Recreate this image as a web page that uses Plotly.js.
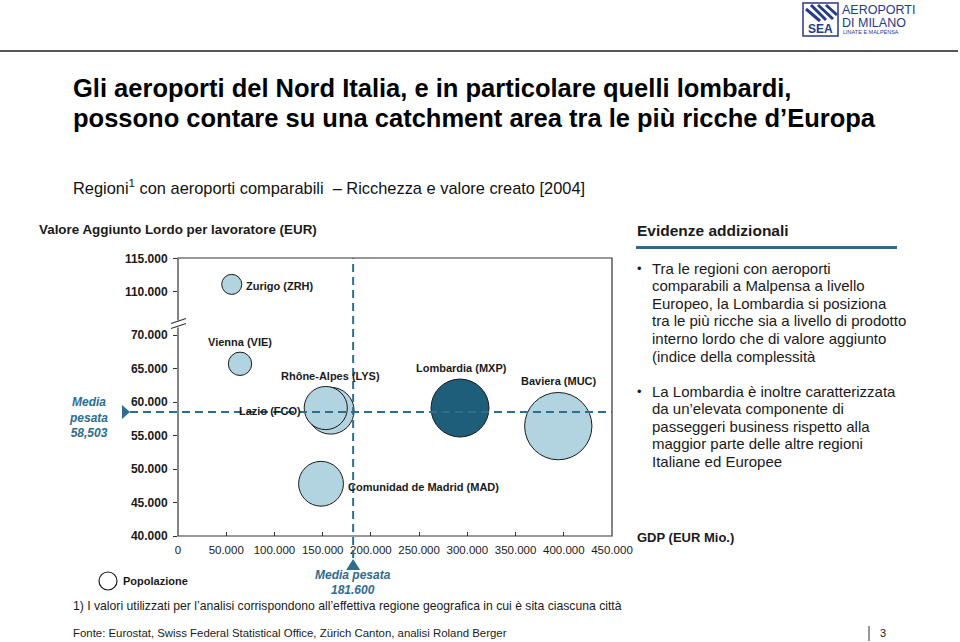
<!DOCTYPE html>
<html><head><meta charset="utf-8">
<script src="https://cdn.plot.ly/plotly-3.0.1.min.js"></script>
<style>html,body{margin:0;padding:0;background:#fff}#chart{width:960px;height:642px}</style>
</head><body><div id="chart"></div>
<script>
// ---------------- data ----------------
const regions = ['Zurigo (ZRH)', 'Vienna (VIE)', 'Rhône-Alpes (LYS)', 'Lazio (FCO)', 'Comunidad de Madrid (MAD)', 'Lombardia (MXP)', 'Baviera (MUC)'];
const gdpMio = [55700, 64300, 158300, 153200, 148300, 292400, 394300];          // GDP (EUR Mio.)
const gvaPerWorker = [111100, 65700, 58700, 59100, 47800, 59100, 56400];        // Valore Aggiunto Lordo per lavoratore (EUR)
const populationMio = [1.1, 1.5, 6.0, 5.1, 5.5, 9.2, 12.4];                     // Popolazione (Mio.)
const xTickVals = [0, 50000, 100000, 150000, 200000, 250000, 300000, 350000, 400000, 450000];
const yTickValsLow = [40000, 45000, 50000, 55000, 60000, 65000, 70000];
const yTickValsHigh = [110000, 115000];
const weightedMeanGdp = 181600;
const weightedMeanGva = 58503;
const highlightRegion = 'Lombardia (MXP)';

const bulletsA = ['Tra le regioni con aeroporti', 'comparabili a Malpensa a livello', 'Europeo, la Lombardia si posiziona', 'tra le più ricche sia a livello di prodotto', 'interno lordo che di valore aggiunto', '(indice della complessità'];
const bulletsB = ['La Lombardia è inoltre caratterizzata', 'da un’elevata componente di', 'passeggeri business rispetto alla', 'maggior parte delle altre regioni', 'Italiane ed Europee'];

// ---------------- styles ----------------
const FONT = 'Liberation Sans, Arial, Helvetica, sans-serif';
const TEAL = '#2E6D8C';
const LIGHT = '#B2D4E0';
const DARK = '#1F5E7B';
const INK = '#1a1a1a';
const NAVY = '#27398A';

// plot frame in page pixels
const L = 178, R = 612, T = 258, B = 536, BRK = 324;
const W = R - L, H = B - T;
const fx = x => (x - L) / W, fy = y => (B - y) / H;
const dBreak = fy(BRK);

const MAXD = 67.3;
const sizeref = 2 * Math.max(...populationMio) / (MAXD * MAXD);

// ---------------- traces ----------------
function bubbleTrace(idx, yaxis) {
  return {
    type: 'scatter', mode: 'markers', yaxis: yaxis, cliponaxis: false,
    x: idx.map(i => gdpMio[i]), y: idx.map(i => gvaPerWorker[i]),
    text: idx.map(i => regions[i]), hoverinfo: 'text', showlegend: false,
    marker: {
      size: idx.map(i => populationMio[i]), sizemode: 'area', sizeref: sizeref,
      color: idx.map(i => regions[i] === highlightRegion ? DARK : LIGHT),
      opacity: 1, line: { color: INK, width: 1 }
    }
  };
}
const all = regions.map((r, i) => i);
const idxLow = all.filter(i => gvaPerWorker[i] < 100000);
const idxHigh = all.filter(i => gvaPerWorker[i] >= 100000);
const data = [bubbleTrace(idxLow, 'y'), bubbleTrace(idxHigh, 'y2')];

// ---------------- annotations ----------------
const annotations = [];
function txt(text, x, y, o) {
  o = o || {};
  annotations.push({
    xref: 'paper', yref: 'paper', x: fx(x), y: fy(y), text: text, showarrow: false,
    xanchor: o.xa || 'left', yanchor: 'middle', borderpad: 0,
    font: { family: FONT, size: o.size || 12, color: o.color || INK, weight: o.weight || 'normal', style: o.style || 'normal' }
  });
}

const labelPlacement = {
  'Zurigo (ZRH)': { xanchor: 'left', xshift: 13, yshift: -2 },
  'Vienna (VIE)': { xanchor: 'center', xshift: 0, yshift: 22 },
  'Rhône-Alpes (LYS)': { xanchor: 'center', xshift: 0, yshift: 35 },
  'Lazio (FCO)': { xanchor: 'right', xshift: -24, yshift: -3 },
  'Comunidad de Madrid (MAD)': { xanchor: 'left', xshift: 26, yshift: -3 },
  'Lombardia (MXP)': { xanchor: 'center', xshift: 1, yshift: 40 },
  'Baviera (MUC)': { xanchor: 'center', xshift: 1, yshift: 45 }
};
regions.forEach((r, i) => {
  const p = labelPlacement[r];
  annotations.push({
    xref: 'x', yref: gvaPerWorker[i] >= 100000 ? 'y2' : 'y', x: gdpMio[i], y: gvaPerWorker[i],
    text: r, showarrow: false, xanchor: p.xanchor, yanchor: 'middle', xshift: p.xshift, yshift: p.yshift, borderpad: 0,
    font: { family: FONT, size: 11, color: INK, weight: 'bold' }
  });
});

// weighted mean labels
const thousandsDot = v => String(Math.round(v)).replace(/\B(?=(\d{3})+(?!\d))/g, '.');
const meanFont = { family: FONT, size: 12, color: TEAL, weight: 'bold', style: 'italic' };
annotations.push({ xref: 'x', yref: 'paper', x: weightedMeanGdp, y: fy(575), text: 'Media pesata', showarrow: false, xanchor: 'center', yanchor: 'middle', borderpad: 0, font: meanFont });
annotations.push({ xref: 'x', yref: 'paper', x: weightedMeanGdp, y: fy(589.5), text: thousandsDot(weightedMeanGdp), showarrow: false, xanchor: 'center', yanchor: 'middle', borderpad: 0, font: meanFont });
annotations.push({ xref: 'paper', yref: 'y', x: fx(88), y: weightedMeanGva, text: 'Media<br>pesata<br>' + (weightedMeanGva / 1000).toFixed(3).replace('.', ','), showarrow: false, xanchor: 'center', yanchor: 'middle', yshift: -5, borderpad: 0, font: meanFont });

// page texts
txt('Gli aeroporti del Nord Italia, e in particolare quelli lombardi,', 72, 88, { size: 25.5, weight: 'bold', color: '#000' });
txt('possono contare su una catchment area tra le più ricche d’Europa', 72, 118, { size: 25.5, weight: 'bold', color: '#000' });
txt('Regioni<sup>1</sup> con aeroporti comparabili\u00a0 – Ricchezza e valore creato [2004]', 72, 187, { size: 16.4, color: '#111' });
txt('Valore Aggiunto Lordo per lavoratore (EUR)', 38, 229, { size: 13.4, weight: 'bold' });
txt('Evidenze addizionali', 636, 230, { size: 15.5, weight: 'bold' });
txt('GDP (EUR Mio.)', 636, 537, { size: 13, weight: 'bold' });
txt('Popolazione', 122, 581, { size: 11, weight: 'bold' });
txt('1) I valori utilizzati per l’analisi corrispondono all’effettiva regione geografica in cui è sita ciascuna città', 72, 606, { size: 12.2 });
txt('Fonte: Eurostat, Swiss Federal Statistical Office, Zürich Canton, analisi Roland Berger', 72, 633, { size: 11.4 });
txt('3', 879, 633, { size: 11 });

const lineH = 17.6;
bulletsA.forEach((s, k) => txt(s, 651, 268 + k * lineH, { size: 15 }));
bulletsB.forEach((s, k) => txt(s, 651, 391 + k * lineH, { size: 15 }));
txt('•', 636, 268, { size: 13 });
txt('•', 636, 391, { size: 13 });

// logo texts
txt('AEROPORTI', 841, 9.5, { size: 12.5, color: NAVY });
txt('DI MILANO', 841, 23, { size: 12.5, color: NAVY });
txt('LINATE E MALPENSA', 842, 32.5, { size: 5.5, color: NAVY });
txt('SEA', 820.5, 28.5, { size: 12, color: NAVY, weight: 'bold', xa: 'center' });

// ---------------- shapes ----------------
const P = (x0, y0, x1, y1, color, width, dash) => ({ type: 'line', xref: 'paper', yref: 'paper', x0: fx(x0), y0: fy(y0), x1: fx(x1), y1: fy(y1), line: { color: color, width: width, dash: dash || 'solid' } });
const shapes = [
  // plot frame
  { type: 'rect', xref: 'paper', yref: 'paper', x0: 0, x1: 1, y0: 0, y1: 1, line: { color: '#333', width: 1.2 }, fillcolor: 'rgba(0,0,0,0)' },
  // axis break
  P(L, 320.5, L, 327.5, '#fff', 4),
  P(171, 323.5, 186, 318.5, '#333', 1.2),
  P(171, 328.5, 186, 323.5, '#333', 1.2),
  // weighted mean lines
  { type: 'line', xref: 'paper', yref: 'y', x0: fx(130), x1: 1, y0: weightedMeanGva, y1: weightedMeanGva, line: { color: TEAL, width: 2, dash: '8px,5px' } },
  { type: 'line', xref: 'x', yref: 'paper', x0: weightedMeanGdp, x1: weightedMeanGdp, y0: fy(558), y1: 1, line: { color: TEAL, width: 2, dash: '8px,5px' } },
  // triangles
  { type: 'path', xref: 'paper', yref: 'y', xsizemode: 'pixel', ysizemode: 'pixel', xanchor: fx(130), yanchor: weightedMeanGva, path: 'M -8 7 L 0 0 L -8 -7 Z', fillcolor: TEAL, line: { width: 0 } },
  { type: 'path', xref: 'x', yref: 'paper', xsizemode: 'pixel', ysizemode: 'pixel', xanchor: weightedMeanGdp, yanchor: fy(570), path: 'M -7 0 L 0 11 L 7 0 Z', fillcolor: TEAL, line: { width: 0 } },
  // evidenze underline
  P(636, 247.5, 897, 247.5, '#2F6A88', 3),
  // top rule
  P(0, 51, 958, 51, '#555', 2),
  // popolazione legend circle
  { type: 'circle', xref: 'paper', yref: 'paper', x0: fx(99), x1: fx(117), y0: fy(590), y1: fy(572), line: { color: INK, width: 1.2 }, fillcolor: '#fff' },
  // page number bar
  P(869, 626, 869, 641, '#333', 1),
  // logo
  { type: 'rect', xref: 'paper', yref: 'paper', x0: fx(803), x1: fx(838), y0: fy(36), y1: fy(3), line: { color: NAVY, width: 1.5 }, fillcolor: '#fff' },
  P(806, 9, 820, 21, NAVY, 3),
  P(811, 5, 826, 20, NAVY, 3),
  P(818, 5, 833, 19, NAVY, 3),
  P(826, 5, 837, 15, NAVY, 3)
];

const axisFontBold = { family: FONT, size: 12, color: INK, weight: 'bold' };
const layout = {
  width: 960, height: 642,
  paper_bgcolor: '#fff', plot_bgcolor: 'rgba(0,0,0,0)',
  margin: { l: L, r: 960 - R, t: T, b: 642 - B, pad: 0 },
  separators: ',.',
  showlegend: false,
  font: { family: FONT, color: INK },
  xaxis: {
    range: [0, 450000], tickvals: xTickVals, tickformat: ',.0f', ticks: 'inside', ticklen: 4, tickcolor: '#333',
    ticklabelstandoff: 5,
    showline: false, showgrid: false, zeroline: false, tickfont: { family: FONT, size: 11.5, color: INK }, anchor: 'y', fixedrange: true
  },
  yaxis: {
    domain: [0, dBreak], range: [40000, 40000 + (B - BRK) / 6.7 * 1000], tickvals: yTickValsLow, tickformat: ',.0f',
    ticklabelstandoff: 3,
    ticks: 'outside', ticklen: 4, tickcolor: '#333', showline: false, showgrid: false, zeroline: false, tickfont: axisFontBold, fixedrange: true
  },
  yaxis2: {
    domain: [dBreak, 1], range: [105135, 115075], tickvals: yTickValsHigh, tickformat: ',.0f', anchor: 'x',
    ticklabelstandoff: 3,
    ticks: 'outside', ticklen: 4, tickcolor: '#333', showline: false, showgrid: false, zeroline: false, tickfont: axisFontBold, fixedrange: true
  },
  shapes: shapes,
  annotations: annotations
};

Plotly.newPlot('chart', data, layout, { staticPlot: true, displayModeBar: false });
</script>
</body></html>
